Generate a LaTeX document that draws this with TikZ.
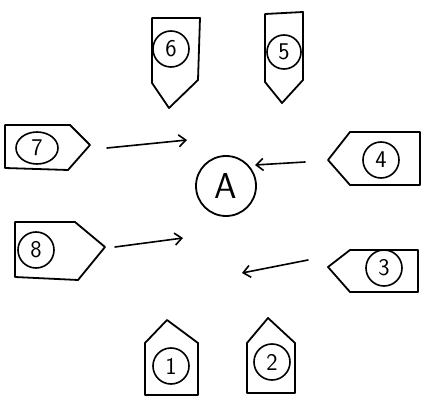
\documentclass[tikz,border=0pt]{standalone}
\usetikzlibrary{arrows.meta,shapes.geometric}
\begin{document}
\begin{tikzpicture}[x=1pt,y=-1pt,
  ink/.style={line width=1.8pt,line cap=round,line join=round},
  lab/.style={circle,draw,line width=1.6pt,minimum size=36pt,inner sep=0pt,font=\fontsize{24}{26}\selectfont\sffamily},
  big/.style={circle,draw,line width=1.8pt,minimum size=60pt,inner sep=0pt,font=\fontsize{36}{38}\selectfont\sffamily},
  flow/.style={line width=1.6pt,line cap=round,-{Straight Barb[length=7pt,width=12pt]}}]
\useasboundingbox (0,0) rectangle (429,409);
% center
\node[big] (A) at (226,186) {A};
% shape 6 (top, pointing down)
\draw[ink] (152,18) -- (200,18) -- (198,80) -- (169,108) -- (152,83) -- cycle;
\node[lab] (n6) at (171,49) {6};
% shape 5
\draw[ink] (265,14) -- (303,12) -- (303,80) -- (282,103) -- (265,82) -- cycle;
\node[lab,minimum size=34pt] (n5) at (284,52) {5};
% shape 7 (left, pointing right)
\draw[ink] (5,125) -- (70,125) -- (90,145) -- (68,170) -- (5,168) -- cycle;
\node[lab,ellipse,minimum width=42pt,minimum height=32pt] (n7) at (37,148) {7};
% shape 8
\draw[ink] (15,222) -- (75,222) -- (105,247) -- (78,280) -- (15,277) -- cycle;
\node[lab] (n8) at (36,250) {8};
% shape 4 (right, pointing left)
\draw[ink] (328,160) -- (350,132) -- (420,132) -- (420,185) -- (350,185) -- cycle;
\node[lab] (n4) at (381,160) {4};
% shape 3
\draw[ink] (328,267) -- (350,250) -- (418,250) -- (418,292) -- (350,292) -- cycle;
\node[lab] (n3) at (384,268) {3};
% shape 1 (bottom, pointing up)
\draw[ink] (167,320) -- (145,343) -- (145,395) -- (198,395) -- (198,343) -- cycle;
\node[lab] (n1) at (171,366) {1};
% shape 2
\draw[ink] (268,318) -- (247,343) -- (247,393) -- (295,393) -- (295,343) -- cycle;
\node[lab] (n2) at (272,362) {2};
% arrows
\coordinate (s7) at (107,148); \coordinate (e7) at (187,140);
\coordinate (s8) at (115,247); \coordinate (e8) at (183,238);
\coordinate (s4) at (305,162); \coordinate (e4) at (255,165);
\coordinate (s3) at (308,260); \coordinate (e3) at (242,273);
\draw[flow] (s7) -- (e7);
\draw[flow] (s8) -- (e8);
\draw[flow] (s4) -- (e4);
\draw[flow] (s3) -- (e3);
\end{tikzpicture}
\end{document}
